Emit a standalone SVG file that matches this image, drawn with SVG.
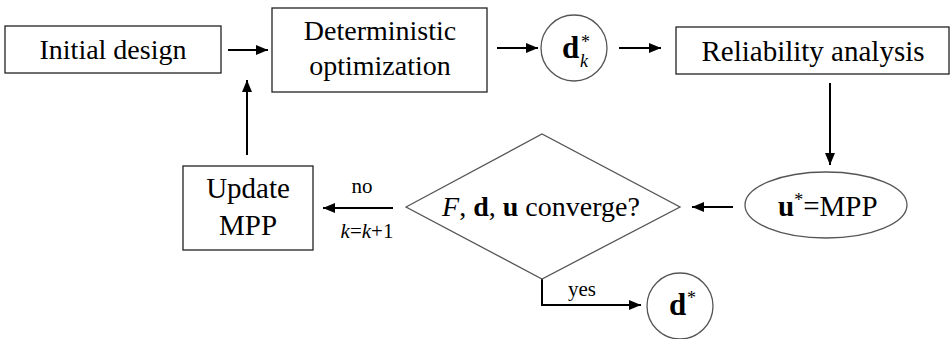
<svg xmlns="http://www.w3.org/2000/svg" width="952" height="339" viewBox="0 0 952 339" font-family="Liberation Serif, Times New Roman, serif">
<style>
.box{fill:#fff;stroke:#222;stroke-width:1.3}
.shape{fill:#fff;stroke:#555;stroke-width:1.3}
.c{stroke:#000;stroke-width:2;fill:none}
</style>
<defs>
<marker id="ah" viewBox="0 0 12 10" refX="12" refY="5" markerWidth="12" markerHeight="10" markerUnits="userSpaceOnUse" orient="auto">
<path d="M0,0 L12,5 L0,10 z" fill="#000"/>
</marker>
</defs>
<rect width="952" height="339" fill="#fff"/>
<g id="connectors">
<line class="c" x1="228" y1="50" x2="268" y2="50" marker-end="url(#ah)"/>
<line class="c" x1="247" y1="155" x2="247" y2="80" marker-end="url(#ah)"/>
<line class="c" x1="497" y1="48" x2="538" y2="48" marker-end="url(#ah)"/>
<line class="c" x1="619" y1="48" x2="661" y2="48" marker-end="url(#ah)"/>
<line class="c" x1="830" y1="83" x2="830" y2="165" marker-end="url(#ah)"/>
<line class="c" x1="733" y1="207" x2="692" y2="207" marker-end="url(#ah)"/>
<line class="c" x1="393" y1="208" x2="323" y2="208" marker-end="url(#ah)"/>
<polyline class="c" points="542,279 542,305 641,305" marker-end="url(#ah)"/>
<text x="362" y="193" font-size="21" text-anchor="middle">no</text>
<text x="367" y="238" font-size="21" text-anchor="middle"><tspan font-style="italic">k</tspan>=<tspan font-style="italic">k</tspan>+1</text>
<text x="582" y="296" font-size="21" text-anchor="middle">yes</text>
</g>
<g id="initial">
<rect class="box" x="5" y="26" width="216" height="47"/>
</g>
<text x="113" y="59" font-size="28" text-anchor="middle" font-family="Liberation Serif">Initial design</text>
<g id="deterministic">
<rect class="box" x="272" y="8" width="215" height="84"/>
<text x="380" y="40" font-size="28" text-anchor="middle">Deterministic</text>
<text x="380" y="75" font-size="28" text-anchor="middle">optimization</text>
</g>
<g id="dk">
<circle class="shape" cx="574" cy="48" r="33"/>
<text x="562" y="58" font-size="31" font-weight="bold">d</text>
<text x="581" y="48" font-size="18">*</text>
<text x="580" y="67" font-size="18" font-style="italic">k</text>
</g>
<g id="reliability">
<rect class="box" x="676" y="27" width="273" height="47"/>
<text x="813" y="61" font-size="29" text-anchor="middle">Reliability analysis</text>
</g>
<g id="mpp">
<ellipse class="shape" cx="826" cy="205" rx="81" ry="33"/>
<text x="778" y="216" font-size="29"><tspan font-weight="bold">u</tspan><tspan font-size="18" dy="-10">*</tspan><tspan dy="10">=MPP</tspan></text>
</g>
<g id="decision">
<polygon class="shape" points="406,207 542,134 680,207 542,279"/>
<text x="541" y="216" font-size="28" text-anchor="middle"><tspan font-style="italic">F</tspan>, <tspan font-weight="bold">d</tspan>, <tspan font-weight="bold">u</tspan> converge?</text>
</g>
<g id="update">
<rect class="box" x="183" y="166" width="130" height="84"/>
<text x="248" y="198" font-size="29" text-anchor="middle">Update</text>
<text x="248" y="235" font-size="29" text-anchor="middle">MPP</text>
</g>
<g id="dstar">
<circle class="shape" cx="680" cy="306" r="33"/>
<text x="669" y="315" font-size="31" font-weight="bold">d</text>
<text x="687" y="304" font-size="18">*</text>
</g>
</svg>
